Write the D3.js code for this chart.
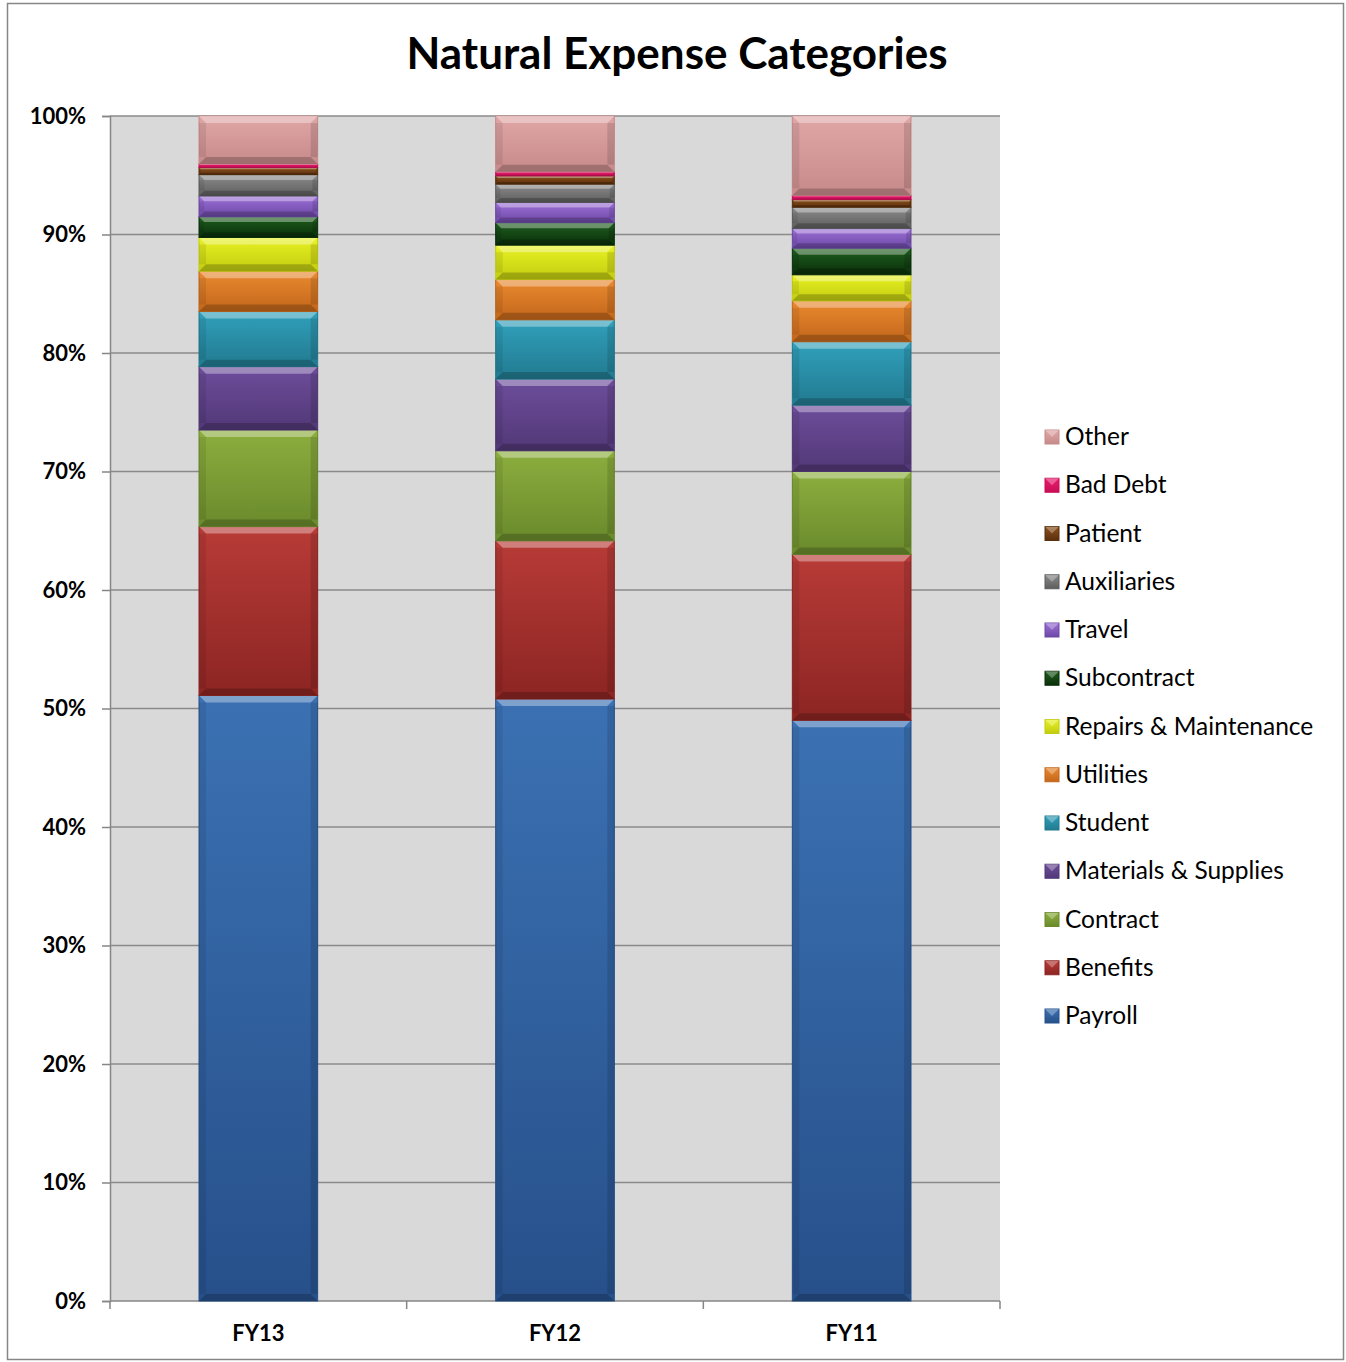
<!DOCTYPE html>
<html>
<head>
<meta charset="utf-8">
<script src="https://cdn.jsdelivr.net/npm/d3@7"></script>
<style>
  body { margin: 0; background: #fff; }
  text { font-family: Lato, "Open Sans", sans-serif; }
</style>
</head>
<body>
<svg id="chart" width="1346" height="1362"></svg>
<script>
var years = ["FY13", "FY12", "FY11"];
var categories = ["Payroll", "Benefits", "Contract", "Materials & Supplies", "Student", "Utilities",
    "Repairs & Maintenance", "Subcontract", "Travel", "Auxiliaries", "Patient", "Bad Debt", "Other"];
// percent of total, one entry per year (FY13, FY12, FY11)
var payroll     = [51.1, 50.8, 49.0];
var benefits    = [14.25, 13.35, 14.0];
var contract    = [8.15, 7.6, 7.0];
var materials   = [5.35, 6.05, 5.6];
var student     = [4.65, 5.0, 5.35];
var utilities   = [3.4, 3.4, 3.45];
var repairs     = [2.85, 2.9, 2.2];
var subcontract = [1.75, 1.9, 2.25];
var travel      = [1.75, 1.7, 1.65];
var auxiliaries = [1.8, 1.55, 1.8];
var patient     = [0.6, 0.7, 0.65];
var badDebt     = [0.3, 0.35, 0.35];
var other       = [4.05, 4.7, 6.7];
var yTicks = [0, 10, 20, 30, 40, 50, 60, 70, 80, 90, 100];

var series = [payroll, benefits, contract, materials, student, utilities, repairs,
    subcontract, travel, auxiliaries, patient, badDebt, other];
var colors = [
    ["#3b71b3", "#27508a"], ["#b83b37", "#8c2523"], ["#8cae3e", "#6a8a2c"], ["#6d4d9b", "#523877"],
    ["#31a0bb", "#217a90"], ["#ea8a30", "#c2661a"], ["#e8f222", "#c2cc10"], ["#1f5e1f", "#0a2f0a"],
    ["#9d70d8", "#6c48a6"], ["#8c8c8c", "#5d5d5d"], ["#8e521c", "#5a2f0c"], ["#ec1a70", "#c80e56"],
    ["#e0a6a6", "#c78a8a"]
];

var table = years.map(function (yr, i) {
    var row = { year: yr };
    categories.forEach(function (c, k) { row[c] = series[k][i]; });
    return row;
});

var svg = d3.select("#chart");
var plotLeft = 110, plotRight = 1000, plotTop = 116, plotBottom = 1301;

var x = d3.scaleBand().domain(years).range([plotLeft, plotRight]).paddingInner(0.6).paddingOuter(0.3);
var y = d3.scaleLinear().domain([0, 100]).range([plotBottom, plotTop]);

var defs = svg.append("defs");
colors.forEach(function (c, k) {
    var g = defs.append("linearGradient").attr("id", "g" + k)
        .attr("x1", 0).attr("y1", 0).attr("x2", 0).attr("y2", 1);
    g.append("stop").attr("offset", "0%").attr("stop-color", c[0]);
    g.append("stop").attr("offset", "100%").attr("stop-color", c[1]);
});

// outer border
svg.append("rect").attr("x", 7.5).attr("y", 3.5).attr("width", 1336).attr("height", 1356)
    .attr("fill", "#fff").attr("stroke", "#868686").attr("stroke-width", 1.5);

// title
svg.append("text").attr("x", 677).attr("y", 69).attr("text-anchor", "middle")
    .attr("font-size", 44).attr("font-weight", "bold").text("Natural Expense Categories");

// plot background
svg.append("rect").attr("x", plotLeft).attr("y", plotTop).attr("width", plotRight - plotLeft).attr("height", plotBottom - plotTop)
    .attr("fill", "#d9d9d9");

// gridlines
svg.append("g").selectAll("line").data(yTicks.slice(1)).enter().append("line")
    .attr("x1", plotLeft).attr("x2", plotRight).attr("y1", function (d) { return y(d); }).attr("y2", function (d) { return y(d); })
    .attr("stroke", "#8a8a8a").attr("stroke-width", 1.5);

// y axis
var yAxis = svg.append("g").attr("transform", "translate(" + plotLeft + ",0)")
    .call(d3.axisLeft(y).tickValues(yTicks).tickSize(8).tickPadding(16).tickFormat(function (d) { return d + "%"; }));
yAxis.select(".domain").attr("stroke", "#868686").attr("stroke-width", 1.5);
yAxis.selectAll(".tick line").attr("stroke", "#868686").attr("stroke-width", 1.5);
yAxis.selectAll("text").attr("font-size", 22).attr("font-weight", "bold").attr("fill", "#000")
    .style("font-family", "Lato, sans-serif");

// x axis
var xAxis = svg.append("g").attr("transform", "translate(0," + plotBottom + ")")
    .call(d3.axisBottom(x).tickSize(0).tickPadding(24));
xAxis.select(".domain").remove();
xAxis.selectAll("text").attr("font-size", 22).attr("font-weight", "bold").attr("fill", "#000")
    .style("font-family", "Lato, sans-serif");
svg.append("line").attr("x1", plotLeft).attr("x2", plotRight).attr("y1", plotBottom).attr("y2", plotBottom)
    .attr("stroke", "#868686").attr("stroke-width", 1.5);
svg.append("g").selectAll("line").data(d3.range(years.length + 1)).enter().append("line")
    .attr("x1", function (i) { return plotLeft + i * (plotRight - plotLeft) / years.length; })
    .attr("x2", function (i) { return plotLeft + i * (plotRight - plotLeft) / years.length; })
    .attr("y1", plotBottom).attr("y2", plotBottom + 8)
    .attr("stroke", "#868686").attr("stroke-width", 1.5);

// stacked bars
var stacked = d3.stack().keys(categories)(table);
stacked.forEach(function (layer, k) {
    var g = svg.append("g");
    layer.forEach(function (d, i) {
        var x0 = x(years[i]), w = x.bandwidth();
        var y0 = y(d[1]), h = y(d[0]) - y(d[1]);
        g.append("rect").attr("x", x0).attr("y", y0).attr("width", w).attr("height", h)
            .attr("fill", "url(#g" + k + ")").attr("stroke", colors[k][1]).attr("stroke-width", 1);
        var b = Math.min(7, h / 4);
        // bevel highlight on top, shade on bottom
        g.append("path")
            .attr("d", "M" + x0 + "," + y0 + "L" + (x0 + w) + "," + y0 + "L" + (x0 + w - b) + "," + (y0 + b) +
                "L" + (x0 + b) + "," + (y0 + b) + "Z")
            .attr("fill", "#fff").attr("opacity", 0.35);
        g.append("path")
            .attr("d", "M" + x0 + "," + (y0 + h) + "L" + (x0 + w) + "," + (y0 + h) + "L" + (x0 + w - b) + "," + (y0 + h - b) +
                "L" + (x0 + b) + "," + (y0 + h - b) + "Z")
            .attr("fill", "#000").attr("opacity", 0.2);
        g.append("rect").attr("x", x0).attr("y", y0 + b).attr("width", b).attr("height", Math.max(0, h - 2 * b))
            .attr("fill", "#000").attr("opacity", 0.08);
        g.append("rect").attr("x", x0 + w - b).attr("y", y0 + b).attr("width", b).attr("height", Math.max(0, h - 2 * b))
            .attr("fill", "#000").attr("opacity", 0.12);
    });
});

// legend, reversed (Other on top)
var legendOrder = categories.map(function (c, k) { return k; }).reverse();
var legend = svg.append("g");
legendOrder.forEach(function (k, j) {
    var ly = 437 + j * 48.25;
    legend.append("rect").attr("x", 1045).attr("y", ly - 7).attr("width", 14).attr("height", 14)
        .attr("fill", "url(#g" + k + ")").attr("stroke", colors[k][1]).attr("stroke-width", 1);
    legend.append("path")
        .attr("d", "M1045," + (ly - 7) + "L1059," + (ly - 7) + "L1052," + ly + "Z")
        .attr("fill", "#fff").attr("opacity", 0.3);
    legend.append("text").attr("x", 1065).attr("y", ly + 8).attr("font-size", 24.5).attr("fill", "#000")
        .text(categories[k]);
});
</script>
</body>
</html>
